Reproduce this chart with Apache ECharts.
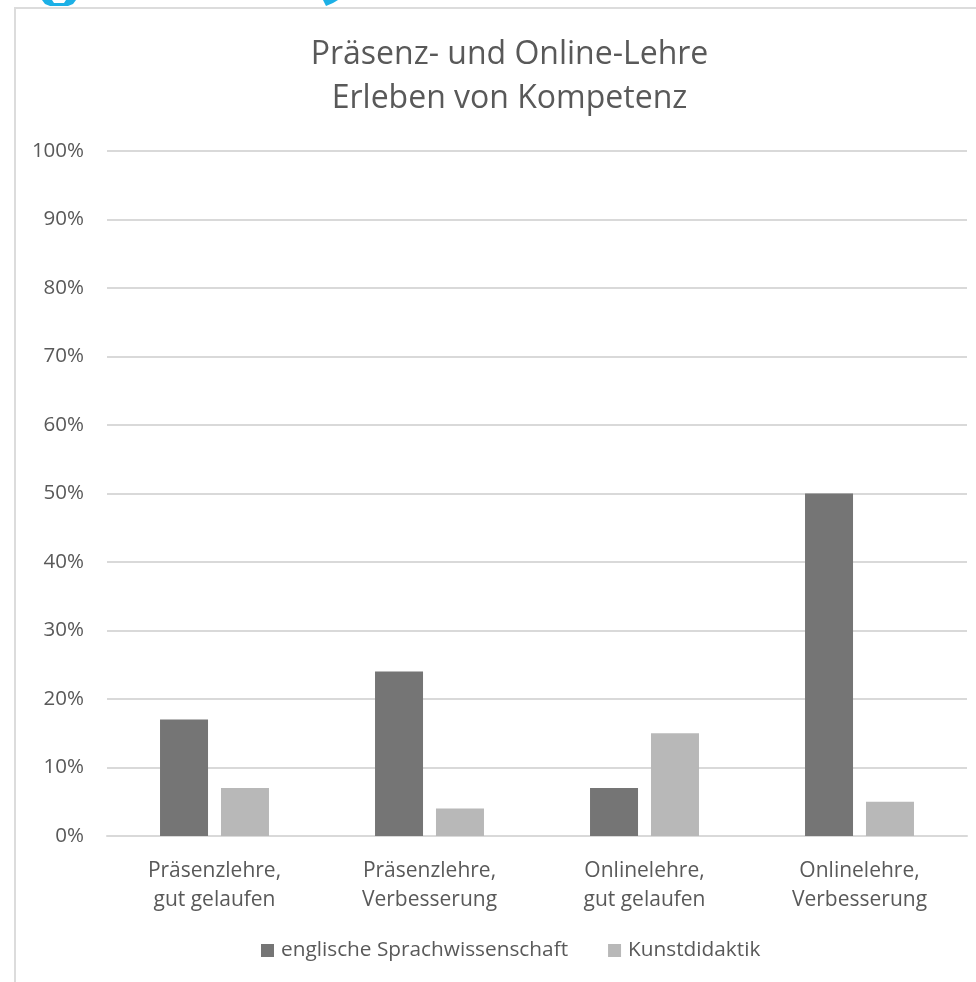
<!DOCTYPE html>
<html><head><meta charset="utf-8">
<style>html,body{margin:0;padding:0;background:#fff}#c{width:976px;height:982px}</style>
<script src="https://cdn.jsdelivr.net/npm/echarts@6/dist/echarts.min.js"></script></head>
<body><div id="c"></div>
<script>
var categories=["Präsenzlehre,\ngut gelaufen","Präsenzlehre,\nVerbesserung","Onlinelehre,\ngut gelaufen","Onlinelehre,\nVerbesserung"];
var seriesA=[17,24,7,50];
var seriesB=[7,4,15,5];
var nameA="englische Sprachwissenschaft", nameB="Kunstdidaktik";
var font="'Open Sans','Noto Sans',sans-serif";
var chart=echarts.init(document.getElementById('c'),null,{renderer:'canvas'});
chart.setOption({
 animation:false,
 title:{text:"Präsenz- und Online-Lehre\nErleben von Kompetenz",left:504.5,top:28,textAlign:'center',
  textStyle:{fontFamily:font,fontSize:32,fontWeight:'normal',color:'#595959',lineHeight:44}},
 legend:{top:935,left:256,itemWidth:13,itemHeight:13,itemGap:40,icon:'rect',
  textStyle:{fontFamily:font,fontSize:20.8,color:'#595959',padding:[0,0,0,2]},data:[nameA,nameB]},
 grid:{left:107,right:9,top:151,bottom:146},
 xAxis:{type:'category',data:categories,axisTick:{show:false},
  axisLine:{lineStyle:{color:'#d9d9d9',width:2}},
  axisLabel:{fontFamily:font,fontSize:21,color:'#595959',lineHeight:29,margin:21}},
 yAxis:{type:'value',min:0,max:100,interval:10,
  axisLabel:{formatter:'{value}%',fontFamily:font,fontSize:20.5,color:'#595959',margin:23,padding:[3,0,0,0]},
  splitLine:{lineStyle:{color:'#d9d9d9',width:2}},axisLine:{show:false},axisTick:{show:false}},
 series:[
  {name:nameA,type:'bar',data:seriesA,barWidth:48,barGap:'27%',itemStyle:{color:'#757575'}},
  {name:nameB,type:'bar',data:seriesB,barWidth:48,itemStyle:{color:'#b8b8b8'}}
 ],
 graphic:[
  {type:'rect',shape:{x:14,y:7,width:962,height:2},style:{fill:'#dcdcdc'},silent:true},
  {type:'rect',shape:{x:14,y:7,width:2,height:975},style:{fill:'#dcdcdc'},silent:true},
  {type:'polygon',shape:{points:[[42,0],[52,0],[54,3],[64,3],[66,0],[76,0],[73,4],[68,6],[50,6],[45,4]]},style:{fill:'#1cb0e6'},silent:true},
  {type:'polygon',shape:{points:[[323,0],[338,0],[333,3],[326,6]]},style:{fill:'#1cb0e6'},silent:true}
 ]
});
</script></body></html>
